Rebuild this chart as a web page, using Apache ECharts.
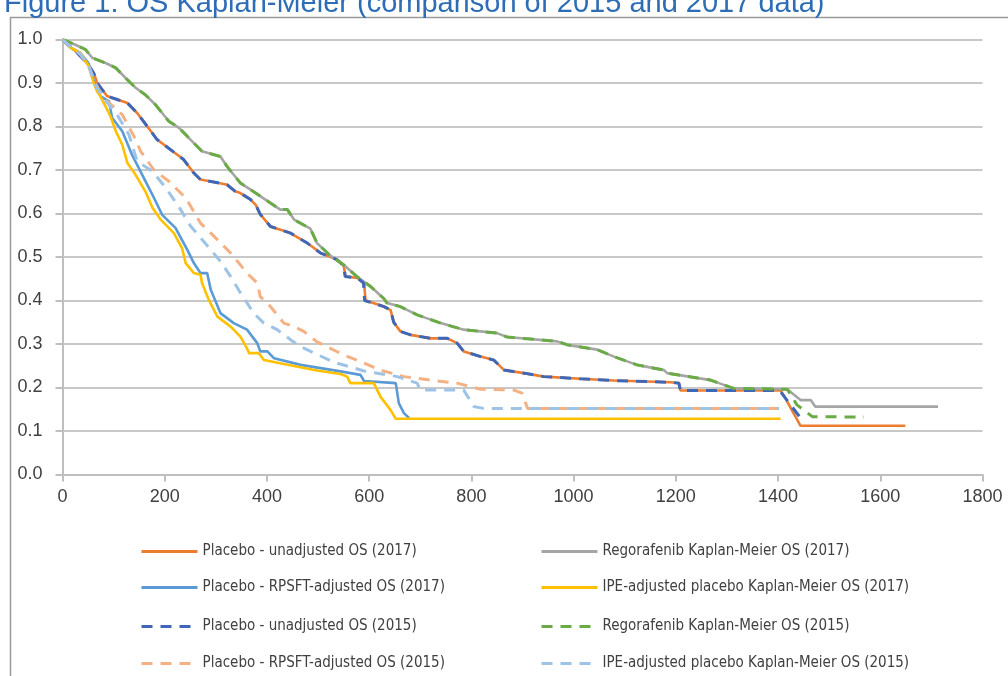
<!DOCTYPE html>
<html><head><meta charset="utf-8">
<script src="https://cdn.jsdelivr.net/npm/echarts@6/dist/echarts.min.js"></script>
<style>html,body{margin:0;padding:0;background:#fff}#c{width:1008px;height:676px}</style>
</head><body><div id="c"></div>
<script>
const titleText = 'Figure 1: OS Kaplan-Meier (comparison of 2015 and 2017 data)';
const xTicks = [0,200,400,600,800,1000,1200,1400,1600,1800];
const yTicks = ['0.0','0.1','0.2','0.3','0.4','0.5','0.6','0.7','0.8','0.9','1.0'];
const seriesNames = [
  'Placebo - unadjusted OS (2017)',
  'Regorafenib Kaplan-Meier OS (2017)',
  'Placebo - RPSFT-adjusted OS (2017)',
  'IPE-adjusted placebo Kaplan-Meier OS (2017)',
  'Placebo - unadjusted OS (2015)',
  'Regorafenib Kaplan-Meier OS (2015)',
  'Placebo - RPSFT-adjusted OS (2015)',
  'IPE-adjusted placebo Kaplan-Meier OS (2015)'
];
const placeboUnadj2017 = [[0,1.0],[9,0.99],[29,0.969],[48,0.946],[61,0.923],[68,0.9],[87,0.87],[107,0.862],[127,0.854],[146,0.831],[166,0.80],[185,0.77],[211,0.747],[237,0.724],[257,0.693],[270,0.678],[306,0.670],[322,0.666],[338,0.651],[348,0.647],[368,0.632],[378,0.62],[387,0.598],[407,0.570],[446,0.555],[479,0.532],[505,0.509],[537,0.494],[550,0.48],[554,0.455],[577,0.452],[590,0.44],[593,0.40],[629,0.386],[642,0.378],[648,0.35],[661,0.329],[681,0.321],[720,0.313],[753,0.313],[772,0.302],[785,0.283],[818,0.271],[844,0.263],[864,0.240],[903,0.233],[942,0.225],[1013,0.220],[1079,0.216],[1190,0.212],[1206,0.21],[1209,0.193],[1405,0.193],[1412,0.18],[1444,0.112],[1649,0.112]];
const regorafenib2017 = [[0,1.0],[25,0.988],[45,0.977],[58,0.958],[84,0.946],[104,0.935],[123,0.912],[143,0.889],[162,0.873],[182,0.850],[208,0.812],[228,0.797],[247,0.774],[273,0.743],[309,0.731],[322,0.708],[348,0.670],[368,0.655],[407,0.624],[426,0.609],[440,0.609],[453,0.586],[485,0.565],[498,0.532],[524,0.503],[550,0.482],[576,0.455],[603,0.432],[629,0.404],[635,0.394],[661,0.386],[694,0.367],[740,0.348],[785,0.333],[850,0.325],[870,0.316],[968,0.306],[988,0.298],[1046,0.287],[1079,0.271],[1124,0.252],[1177,0.24],[1183,0.233],[1268,0.217],[1313,0.198],[1418,0.196],[1444,0.171],[1464,0.171],[1473,0.156],[1713,0.156]];
const placeboRpsft2017 = [[0,1.0],[16,0.981],[35,0.969],[51,0.945],[61,0.905],[68,0.885],[74,0.87],[91,0.858],[97,0.82],[117,0.789],[136,0.735],[156,0.689],[176,0.643],[195,0.597],[221,0.567],[244,0.517],[257,0.486],[270,0.463],[283,0.463],[290,0.425],[309,0.371],[335,0.348],[361,0.333],[381,0.302],[387,0.283],[401,0.283],[414,0.267],[466,0.252],[544,0.237],[583,0.229],[590,0.215],[652,0.21],[658,0.164],[668,0.141],[678,0.13]];
const ipePlacebo2017 = [[0,1.0],[16,0.981],[35,0.969],[51,0.94],[61,0.90],[68,0.88],[74,0.87],[94,0.823],[104,0.79],[117,0.758],[127,0.716],[143,0.689],[162,0.651],[176,0.613],[192,0.586],[218,0.555],[234,0.52],[241,0.486],[257,0.463],[270,0.459],[273,0.44],[286,0.402],[303,0.363],[329,0.34],[348,0.317],[361,0.29],[365,0.279],[384,0.279],[394,0.263],[433,0.254],[498,0.239],[544,0.231],[557,0.225],[563,0.21],[609,0.21],[622,0.179],[642,0.148],[652,0.128],[1405,0.128]];
const placeboUnadj2015 = [[0,1.0],[9,0.99],[29,0.969],[48,0.946],[61,0.923],[68,0.9],[87,0.87],[107,0.862],[127,0.854],[146,0.831],[166,0.80],[185,0.77],[211,0.747],[237,0.724],[257,0.693],[270,0.678],[306,0.670],[322,0.666],[338,0.651],[348,0.647],[368,0.632],[378,0.62],[387,0.598],[407,0.570],[446,0.555],[479,0.532],[505,0.509],[537,0.494],[550,0.48],[553,0.455],[577,0.452],[589,0.44],[591,0.40],[629,0.386],[642,0.378],[648,0.35],[661,0.329],[681,0.321],[720,0.313],[753,0.313],[772,0.302],[785,0.283],[818,0.271],[844,0.263],[864,0.240],[903,0.233],[942,0.225],[1013,0.220],[1079,0.216],[1190,0.212],[1206,0.21],[1209,0.193],[1403,0.193],[1442,0.133]];
const regorafenib2015 = [[0,1.0],[25,0.988],[45,0.977],[58,0.958],[84,0.946],[104,0.935],[123,0.912],[143,0.889],[162,0.873],[182,0.850],[208,0.812],[228,0.797],[247,0.774],[273,0.743],[309,0.731],[322,0.708],[348,0.670],[368,0.655],[407,0.624],[426,0.609],[440,0.609],[453,0.586],[485,0.565],[498,0.532],[524,0.503],[550,0.482],[576,0.455],[603,0.432],[629,0.404],[635,0.394],[661,0.386],[694,0.367],[740,0.348],[785,0.333],[850,0.325],[870,0.316],[968,0.306],[988,0.298],[1046,0.287],[1079,0.271],[1124,0.252],[1177,0.24],[1183,0.233],[1268,0.217],[1313,0.198],[1418,0.196],[1437,0.16],[1467,0.133],[1568,0.132]];
const placeboRpsft2015 = [[0,1.0],[16,0.983],[35,0.966],[51,0.94],[64,0.90],[80,0.865],[107,0.839],[117,0.827],[140,0.777],[153,0.743],[179,0.70],[208,0.674],[241,0.636],[270,0.578],[303,0.54],[329,0.509],[361,0.463],[381,0.44],[387,0.409],[407,0.386],[433,0.348],[453,0.34],[472,0.329],[498,0.305],[524,0.29],[550,0.275],[590,0.256],[622,0.24],[668,0.225],[720,0.217],[772,0.21],[818,0.196],[883,0.194],[899,0.187],[910,0.152],[1402,0.152]];
const ipePlacebo2015 = [[0,1.0],[16,0.983],[35,0.966],[51,0.94],[64,0.896],[80,0.865],[107,0.827],[130,0.781],[146,0.72],[176,0.697],[202,0.659],[228,0.615],[250,0.572],[276,0.536],[309,0.49],[329,0.455],[348,0.418],[374,0.371],[394,0.348],[420,0.333],[446,0.31],[466,0.294],[500,0.275],[531,0.258],[590,0.238],[655,0.225],[694,0.21],[700,0.194],[785,0.194],[805,0.156],[824,0.152],[1402,0.152]];

const seriesData = [placeboUnadj2017, regorafenib2017, placeboRpsft2017, ipePlacebo2017, placeboUnadj2015, regorafenib2015, placeboRpsft2015, ipePlacebo2015];
const colors = ['#ED7D31','#A5A5A5','#5B9BD5','#FFC000','#3E67B8','#6AAB46','#F4B183','#9DC3E6'];
const dashed = [false,false,false,false,true,true,true,true];

const chart = echarts.init(document.getElementById('c'), null, {renderer:'canvas'});
const legendFont = {fontFamily:'"Liberation Sans Narrow","DejaVu Sans Condensed",sans-serif', fontSize:15, color:'#404040'};
const legendCols = [140, 540];
const legendRows = [544, 580, 619, 656];
const legends = seriesNames.map((n,i)=>({
  data:[n], left:legendCols[i%2], top:legendRows[Math.floor(i/2)], itemWidth:56, itemHeight:14, itemGap:0,
  icon:'inherit', textStyle:legendFont, padding:0, selectedMode:false,
  itemStyle:{opacity:0},
  lineStyle:{width:3}
}));
const option = {
  animation:false,
  backgroundColor:'#fff',
  title:{text:titleText, left:-1, top:-16, textStyle:{fontFamily:'"Liberation Sans",Arial,sans-serif', fontSize:29, fontWeight:'normal', color:'#2C6DB5'}},
  graphic:[{type:'rect', shape:{x:10.5, y:17.5, width:1100, height:800}, style:{fill:'none', stroke:'#9a9a9a', lineWidth:1.5}, silent:true, z:-1}],
  grid:{left:62.5, top:39.5, width:920, height:435},
  legend:legends,
  xAxis:{type:'value', min:0, max:1800, interval:200,
    axisLine:{show:true, lineStyle:{color:'#bfbfbf', width:2}},
    axisTick:{show:true, length:7, lineStyle:{color:'#bfbfbf', width:2}},
    axisLabel:{margin:14, fontFamily:'"Liberation Sans",Arial,sans-serif', fontSize:18, color:'#404040', formatter:v=>String(v)},
    splitLine:{show:false}},
  yAxis:{type:'value', min:0, max:1, interval:0.1,
    axisLine:{show:true, lineStyle:{color:'#bfbfbf', width:2}},
    axisTick:{show:true, length:7, lineStyle:{color:'#bfbfbf', width:2}},
    axisLabel:{margin:20, fontFamily:'"Liberation Sans",Arial,sans-serif', fontSize:18, color:'#404040', formatter:v=>yTicks[Math.round(v*10)]},
    splitLine:{show:true, lineStyle:{color:'#c8c8c8', width:2}}},
  series: seriesData.map((d,i)=>({
    name:seriesNames[i], type:'line', data:d, symbol:'none', showSymbol:false, smooth:false,
    lineStyle:{color:colors[i], width:dashed[i]?3:2.6, type:dashed[i]?[11,8]:'solid', cap:'butt'},
    itemStyle:{color:colors[i]},
    z:2+i
  }))
};
chart.setOption(option);
</script></body></html>
